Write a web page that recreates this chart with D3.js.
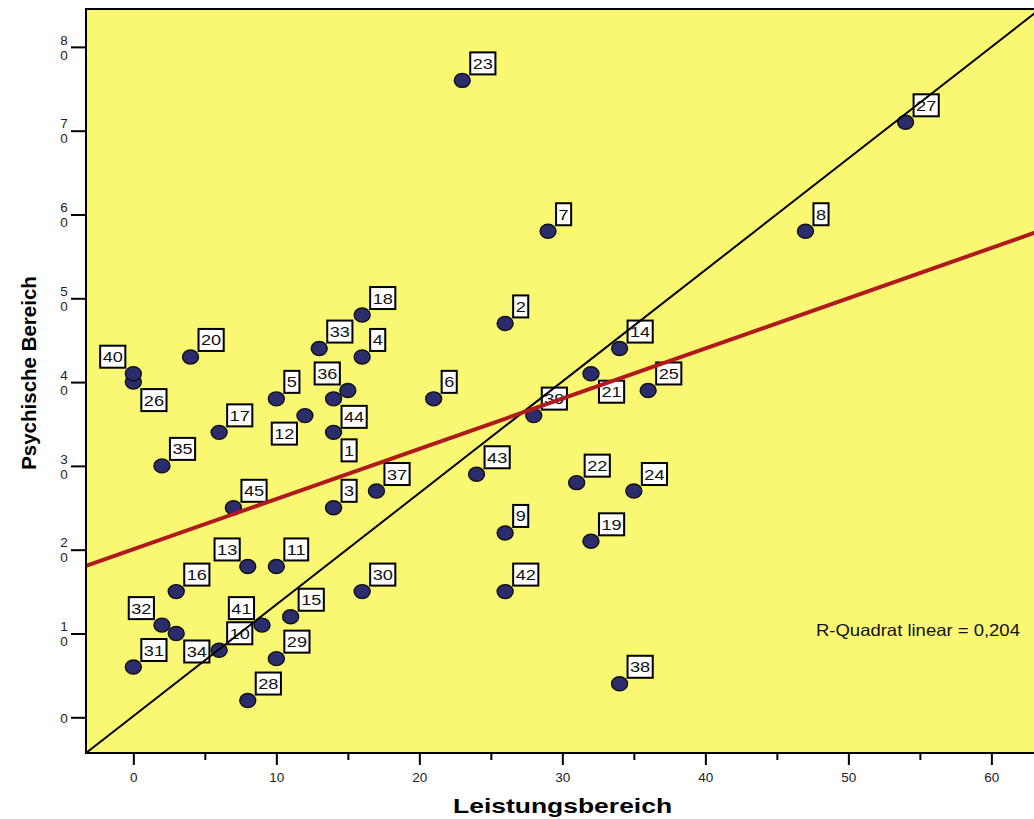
<!DOCTYPE html>
<html>
<head>
<meta charset="utf-8">
<script src="https://cdn.jsdelivr.net/npm/d3@7"></script>
<style>
  body { margin: 0; background: #fff; }
  text { font-family: Arial, "Liberation Sans", sans-serif; }
</style>
</head>
<body>
<div id="scatter"></div>
<script>
// case numbers, and the two scores
let ids = d3.range(1, 46);
let leistung = [14, 26, 14, 16, 10, 21, 29, 47, 26, 6, 10, 12, 8, 34, 11, 3, 6, 16, 32, 4,
  32, 31, 23, 35, 36, 0, 54, 8, 10, 16, 0, 2, 13, 3, 2, 15, 17, 34, 28, 0, 9, 26, 24, 14, 7];
let psychisch = [34, 47, 25, 43, 38, 38, 58, 58, 22, 8, 18, 36, 18, 44, 12, 15, 34, 48, 21, 43,
  41, 28, 76, 27, 39, 40, 71, 2, 7, 15, 6, 11, 44, 10, 30, 39, 27, 4, 36, 41, 11, 15, 29, 38, 25];
// where each case label sits relative to its dot
let labelSide = ["dr", "ur", "ur", "ur", "ur", "ur", "ur", "ur", "ur", "ur", "ur", "dl", "ul", "ur", "ur",
  "ur", "ur", "ur", "ur", "ur", "dr", "ur", "ur", "ur", "ur", "dr", "ur", "ur", "ur", "ur", "ur", "ul",
  "ur", "dr", "ur", "ul", "ur", "ur", "ur", "ul", "ul", "ur", "ur", "dr", "ur"];

let xTicks = [0, 10, 20, 30, 40, 50, 60];
let xMinorTicks = [5, 15, 25, 35, 45, 55];
let yTicks = [0, 10, 20, 30, 40, 50, 60, 70, 80];
let xDomain = [-3.31, 63.4];
let yDomain = [-4.26, 84.52];
let rSquareText = "R-Quadrat linear = 0,204";

let data = ids.map((id, i) => ({ id: id, x: leistung[i], y: psychisch[i], side: labelSide[i] }));

// the original output has its text drawn a bit wider than normal
let widen = (sel, factor) => {
  let w = sel.node().getComputedTextLength();
  sel.attr("textLength", w * factor).attr("lengthAdjust", "spacingAndGlyphs");
  return w * factor;
};

let draw = () => {
  let width = 1034;
  let height = 819;
  let plot = { left: 86, right: 1040, top: 9, bottom: 753 };

  let svg = d3
    .select("#scatter")
    .append("svg")
    .attr("width", width)
    .attr("height", height);

  let xScale = d3.scaleLinear().domain(xDomain).range([plot.left, plot.right]);
  let yScale = d3.scaleLinear().domain(yDomain).range([plot.bottom, plot.top]);

  svg
    .append("rect")
    .attr("x", plot.left)
    .attr("y", plot.top)
    .attr("width", plot.right - plot.left)
    .attr("height", plot.bottom - plot.top)
    .attr("fill", "#faf873");

  // dots
  svg
    .append("g")
    .selectAll("ellipse")
    .data(data)
    .enter()
    .append("ellipse")
    .attr("cx", (d) => xScale(d.x))
    .attr("cy", (d) => yScale(d.y))
    .attr("rx", 8)
    .attr("ry", 7)
    .attr("fill", "#2a2c6c")
    .attr("stroke", "#111")
    .attr("stroke-width", 1.4);

  // case labels
  let labels = svg
    .append("g")
    .selectAll("g")
    .data(data)
    .enter()
    .append("g");

  labels.each(function (d) {
    let g = d3.select(this);
    let rect = g.append("rect");
    let txt = g
      .append("text")
      .text(d.id)
      .attr("font-size", 14.5)
      .attr("fill", "#111");
    let tw = widen(txt, 1.25);
    let bw = tw + 5;
    let bh = 22;
    let px = xScale(d.x);
    let py = yScale(d.y);
    let left = d.side[1] === "r" ? px + 8 : px - 8 - bw;
    let top = d.side[0] === "u" ? py - 6 - bh : py + 7;
    rect
      .attr("x", left)
      .attr("y", top)
      .attr("width", bw)
      .attr("height", bh)
      .attr("fill", "#fff")
      .attr("stroke", "#000")
      .attr("stroke-width", 2);
    txt.attr("x", left + 2.5).attr("y", top + 16.5);
  });

  // diagonal reference line, corner to corner
  let line = d3
    .line()
    .x((d) => xScale(d[0]))
    .y((d) => yScale(d[1]));

  svg
    .append("path")
    .datum([[xDomain[0], yDomain[0]], [xDomain[1], yDomain[1]]])
    .attr("fill", "none")
    .attr("stroke", "#000")
    .attr("stroke-width", 2)
    .attr("d", line);

  // least squares fit
  let mx = d3.mean(leistung);
  let my = d3.mean(psychisch);
  let sxy = d3.sum(leistung, (v, i) => (v - mx) * (psychisch[i] - my));
  let sxx = d3.sum(leistung, (v) => (v - mx) * (v - mx));
  let slope = sxy / sxx;
  let icpt = my - slope * mx;

  svg
    .append("path")
    .datum(xDomain.map((v) => [v, icpt + slope * v]))
    .attr("fill", "none")
    .attr("stroke", "#b01a1e")
    .attr("stroke-width", 4)
    .attr("d", line);

  let rq = svg
    .append("text")
    .attr("x", 816)
    .attr("y", 636)
    .attr("font-size", 16.5)
    .attr("fill", "#111")
    .text(rSquareText);
  widen(rq, 1.12);

  // frame
  svg
    .append("rect")
    .attr("x", plot.left)
    .attr("y", plot.top)
    .attr("width", plot.right - plot.left)
    .attr("height", plot.bottom - plot.top)
    .attr("fill", "none")
    .attr("stroke", "#000")
    .attr("stroke-width", 2);

  // x axis
  let xAxis = svg
    .append("g")
    .attr("transform", `translate(0, ${plot.bottom})`)
    .call(d3.axisBottom(xScale).tickValues(xTicks).tickSize(12).tickPadding(7))
    .call((g) => g.select(".domain").remove());
  xAxis.selectAll("line").attr("stroke", "#000").attr("stroke-width", 2);
  xAxis
    .selectAll("text")
    .attr("font-family", "Arial, 'Liberation Sans', sans-serif")
    .attr("font-size", 13.5)
    .attr("fill", "#222");

  svg
    .append("g")
    .attr("transform", `translate(0, ${plot.bottom})`)
    .call(d3.axisBottom(xScale).tickValues(xMinorTicks).tickSize(7).tickFormat(""))
    .call((g) => g.select(".domain").remove())
    .selectAll("line")
    .attr("stroke", "#000")
    .attr("stroke-width", 2);

  // y axis, with the digits stacked one above the other
  let yAxis = svg
    .append("g")
    .attr("transform", `translate(${plot.left}, 0)`)
    .call(d3.axisLeft(yScale).tickValues(yTicks).tickSize(15))
    .call((g) => g.select(".domain").remove());
  yAxis.selectAll("line").attr("stroke", "#000").attr("stroke-width", 2);
  yAxis.selectAll("text").each(function (d) {
    let t = d3.select(this);
    let chars = String(d).split("");
    let step = 15;
    t.text(null)
      .attr("x", -22)
      .attr("dy", null)
      .attr("y", -((chars.length - 1) * step) / 2 + 4.7)
      .attr("text-anchor", "middle")
      .attr("font-family", "Arial, 'Liberation Sans', sans-serif")
      .attr("font-size", 13.5)
      .attr("fill", "#222");
    chars.forEach((c, i) => {
      t.append("tspan")
        .attr("x", -22)
        .attr("dy", i === 0 ? 0 : step)
        .text(c);
    });
  });

  let xt = svg
    .append("text")
    .attr("x", 453)
    .attr("y", 813)
    .attr("font-size", 21)
    .attr("font-weight", "bold")
    .text("Leistungsbereich");
  widen(xt, 1.26);

  svg
    .append("text")
    .attr("transform", `translate(36, ${(plot.top + plot.bottom) / 2 - 8}) rotate(-90)`)
    .attr("text-anchor", "middle")
    .attr("font-size", 20.5)
    .attr("font-weight", "bold")
    .text("Psychische Bereich");
};

draw();
</script>
</body>
</html>
